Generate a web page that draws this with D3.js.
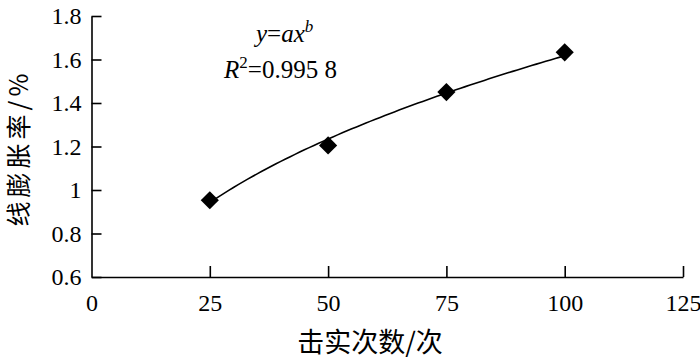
<!DOCTYPE html>
<html>
<head>
<meta charset="utf-8">
<script src="https://cdn.jsdelivr.net/npm/d3@7"></script>
<style>
body { margin: 0; background: #fff; }
svg { display: block; }
</style>
</head>
<body>
<div id="chart"></div>
<script>
// data
var compactions = [25, 50, 75, 100];
var expansion = [0.953, 1.205, 1.45, 1.633];
var xTicks = [0, 25, 50, 75, 100, 125];
var yTicks = [0.6, 0.8, 1, 1.2, 1.4, 1.6, 1.8];
var xTitle = "击实次数/次";
var yTitle = "线膨胀率/%";
var r2Text = "=0.995 8";

var width = 700, height = 360;
var margin = {top: 16, left: 91.5, right: 17, bottom: 83};

var svg = d3.select("#chart").append("svg")
    .attr("width", width)
    .attr("height", height);

var x = d3.scaleLinear()
    .domain([0, 125])
    .range([margin.left, width - margin.right]);

var y = d3.scaleLinear()
    .domain([0.6, 1.8])
    .range([height - margin.bottom, margin.top]);

var serif = "Liberation Serif, DejaVu Serif, Times New Roman, serif";

var fmt = function(d) { return String(+d.toFixed(1)); };

var xAxis = svg.append("g")
    .attr("transform", "translate(0," + y(0.6) + ")")
    .call(d3.axisBottom(x).tickValues(xTicks).tickSize(-11).tickSizeOuter(0).tickPadding(17).tickFormat(fmt));

var yAxis = svg.append("g")
    .attr("transform", "translate(" + x(0) + ",0)")
    .call(d3.axisLeft(y).tickValues(yTicks).tickSize(-10).tickSizeOuter(0).tickPadding(10).tickFormat(fmt));

[xAxis, yAxis].forEach(function(g) {
    g.attr("font-family", serif).attr("font-size", 24);
    g.selectAll("path.domain").attr("stroke", "#000").attr("stroke-width", 1.6);
    g.selectAll(".tick line").attr("stroke", "#000").attr("stroke-width", 1.6);
    g.selectAll(".tick text").attr("fill", "#000");
});
// no tick mark at x = 0 (sits on the y axis)
xAxis.selectAll(".tick").filter(function(d) { return d === 0; }).select("line").remove();

// power fit y = a x^b in log space
var lx = compactions.map(Math.log), ly = expansion.map(Math.log);
var mx = d3.mean(lx), my = d3.mean(ly);
var b = d3.sum(lx, function(v, i) { return (v - mx) * (ly[i] - my); }) /
        d3.sum(lx, function(v) { return (v - mx) * (v - mx); });
var a = Math.exp(my - b * mx);

var curveX = d3.range(25, 100.5, 1);
svg.append("path")
    .datum(curveX)
    .attr("fill", "none")
    .attr("stroke", "#000")
    .attr("stroke-width", 1.6)
    .attr("d", d3.line()
        .x(function(d) { return x(d); })
        .y(function(d) { return y(a * Math.pow(d, b)); }));

svg.append("g").selectAll("path")
    .data(compactions)
    .enter()
    .append("path")
    .attr("transform", function(d, i) {
        return "translate(" + x(d) + "," + y(expansion[i]) + ") rotate(45)";
    })
    .attr("d", d3.symbol().type(d3.symbolSquare).size(165))
    .attr("fill", "#000");

// equation text
var eq = svg.append("text")
    .attr("x", 256)
    .attr("y", 42)
    .attr("font-family", serif)
    .attr("font-size", 25)
    .attr("font-style", "italic");
eq.append("tspan").text("y");
eq.append("tspan").attr("font-style", "normal").text("=");
eq.append("tspan").text("ax");
eq.append("tspan").attr("dy", -10).attr("font-size", 17).text("b");

var r2 = svg.append("text")
    .attr("x", 224)
    .attr("y", 78)
    .attr("font-family", serif)
    .attr("font-size", 25);
r2.append("tspan").attr("font-style", "italic").text("R");
r2.append("tspan").attr("dy", -10).attr("font-size", 17).text("2");
r2.append("tspan").attr("dy", 10).text(r2Text);

// axis titles
var cjk = "Noto Sans CJK SC, sans-serif";
svg.append("text")
    .attr("x", 370)
    .attr("y", 352)
    .attr("text-anchor", "middle")
    .attr("font-family", cjk)
    .attr("font-size", 27)
    .text(xTitle);

svg.append("text")
    .attr("transform", "translate(28,148) rotate(-90)")
    .attr("text-anchor", "middle")
    .attr("font-family", cjk)
    .attr("font-size", 25)
    .attr("letter-spacing", 4)
    .text(yTitle);
</script>
</body>
</html>
